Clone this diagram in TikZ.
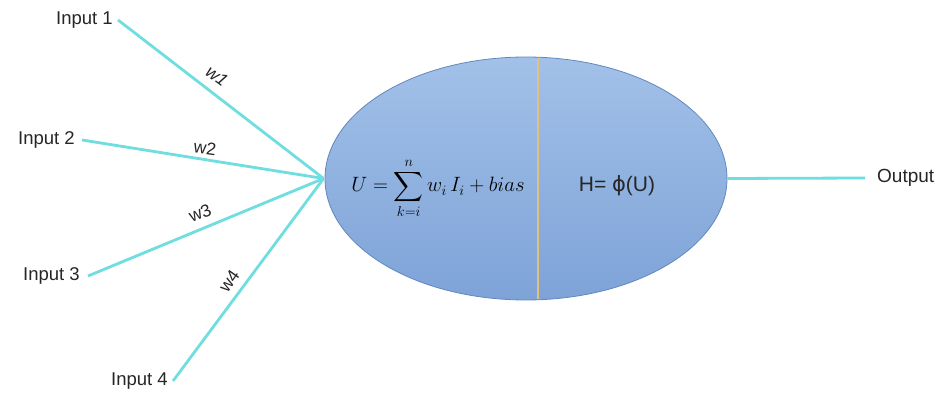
\documentclass[tikz,border=0pt]{standalone}
\usepackage{amsmath}
\usepackage{fontspec}
\setmainfont{Liberation Sans}
\newfontfamily\capfont{Liberation Serif}
\newfontfamily\dvfont{DejaVu Sans}
\usetikzlibrary{shapes.geometric,calc}
\definecolor{wire}{RGB}{112,222,224}
\definecolor{cellTop}{RGB}{162,193,233}
\definecolor{cellBot}{RGB}{126,163,215}
\definecolor{cellEdge}{RGB}{98,136,190}
\definecolor{divider}{RGB}{226,192,130}
\tikzset{
  inlabel/.style={anchor=east,inner xsep=5pt,inner ysep=0pt,font=\fontsize{18.5}{22}\selectfont,text=black!85},
  wlabel/.style={inner sep=0pt,font=\fontsize{17.5}{20}\selectfont,text=black!85},
  wirestyle/.style={draw=wire,line width=2.8pt},
  cell/.style={ellipse,draw=cellEdge,line width=0.8pt,top color=cellTop,bottom color=cellBot,minimum width=402pt,minimum height=243pt,inner sep=0pt}
}
\begin{document}
\begin{tikzpicture}[x=1pt,y=-1pt]
\fill[white] (0,0) rectangle (940,395);
\useasboundingbox (0,0) rectangle (940,395);
% neuron
\node[cell] (neuron) at (526,178.5) {};
\coordinate (divtop) at ($(neuron.north)+(12,1)$);
\coordinate (divbot) at ($(neuron.south)+(12,-1)$);
\draw[divider,line width=2.6pt] (divtop) -- (divbot);
\coordinate (hub) at ($(neuron.west)+(-1,0)$);
% inputs
\node[inlabel] (i1) at (118,20) {Input 1};
\node[inlabel,inner xsep=7pt] (i2) at (82,140) {Input 2};
\node[inlabel,inner xsep=8pt] (i3) at (88,276) {Input 3};
\node[inlabel,inner xsep=5pt] (i4) at (173,381) {Input 4};
\draw[wirestyle] (i1.east) -- (hub);
\draw[wirestyle] (i2.east) -- (hub);
\draw[wirestyle] (i3.east) -- (hub);
\draw[wirestyle] (i4.east) -- (hub);
% weights
\node[wlabel,rotate=-37] (w1) at (217,76) {\itshape w1};
\node[wlabel,rotate=-8] (w2) at (205,148) {w2};
\node[wlabel,rotate=22] (w3) at (200,213) {w3};
\node[wlabel,rotate=55] (w4) at (229,281) {w4};
% formulas
\node[anchor=base,inner sep=0pt,font=\fontsize{20}{24}\selectfont] (sum) at (438,192)
  {$\displaystyle U=\sum_{k=i}^{n} w_i\, I_i + bias$};
\node[anchor=base,inner sep=0pt,font=\fontsize{21}{25}\selectfont,text=black!85] (act) at (617,192)
  {H= {\dvfont ϕ}(U)};
% output
\node[anchor=west,inner xsep=12pt,inner ysep=0pt,font=\fontsize{19}{22}\selectfont,text=black!85] (out) at (865,178) {Output};
\draw[wirestyle] (neuron.east) -- (out.west);
% caption (cut off by the page edge)
\node[anchor=base west,inner sep=0pt,font=\capfont\fontsize{29}{33}\selectfont] (cap) at (260,416)
  {Figure 2: Node structure of an ANN};
\end{tikzpicture}
\end{document}
